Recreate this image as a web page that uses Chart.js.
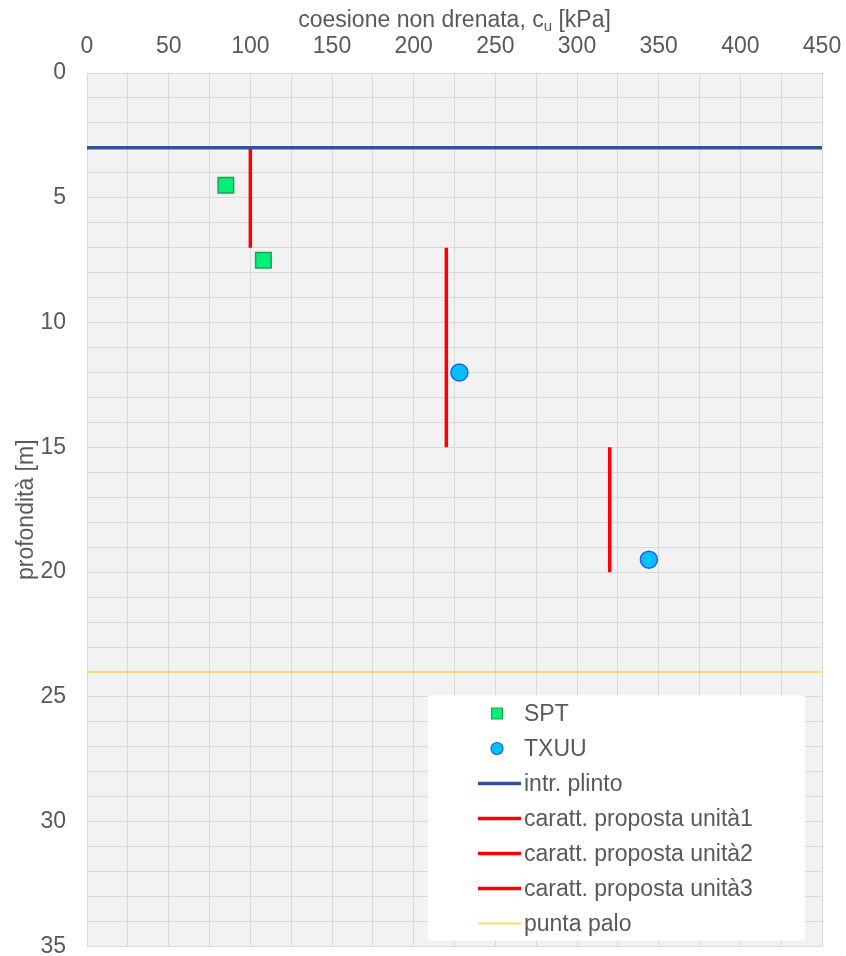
<!DOCTYPE html>
<html>
<head>
<meta charset="utf-8">
<script src="https://cdn.jsdelivr.net/npm/chart.js@4.4.0/dist/chart.umd.min.js"></script>
<style>
html, body { margin: 0; padding: 0; background: #fff; overflow: hidden; }
#wrap { width: 846px; height: 959px; }
</style>
</head>
<body>
<div id="wrap"><canvas id="cuChart"></canvas></div>
<script>
// valori
const sptCu = [85, 108];
const sptZ = [4.5, 7.5];
const txuuCu = [228, 344];
const txuuZ = [12, 19.5];
const plintoZ = 3;
const puntaZ = 24;
const unitCu = [100, 220, 320];
const unitTop = [3, 7, 15];
const unitBottom = [7, 15, 20];
const xTicks = [0, 50, 100, 150, 200, 250, 300, 350, 400, 450];
const yTicks = [0, 5, 10, 15, 20, 25, 30, 35];
const labels = ['SPT', 'TXUU', 'intr. plinto', 'caratt. proposta unità1',
  'caratt. proposta unità2', 'caratt. proposta unità3', 'punta palo'];

const grey = '#595959';
const font = 'Liberation Sans, Arial, sans-serif';

function pts(xs, ys) {
  return xs.map((x, i) => ({ x: x, y: ys[i] }));
}

const datasets = [
  {
    label: labels[0], data: pts(sptCu, sptZ), showLine: false,
    pointStyle: 'rect', pointRadius: 11, backgroundColor: '#00f07a',
    borderColor: '#22a04e', borderWidth: 1.5
  },
  {
    label: labels[1], data: pts(txuuCu, txuuZ), showLine: false,
    pointStyle: 'circle', pointRadius: 8.5, backgroundColor: '#00c0ff',
    borderColor: '#2060e0', borderWidth: 1.5
  },
  {
    label: labels[2], data: pts([0, 450], [plintoZ, plintoZ]), showLine: true,
    pointRadius: 0, borderColor: '#2f5597', borderWidth: 3.5
  }
];
for (let i = 0; i < unitCu.length; i++) {
  datasets.push({
    label: labels[3 + i],
    data: pts([unitCu[i], unitCu[i]], [unitTop[i], unitBottom[i]]),
    showLine: true, pointRadius: 0, borderColor: '#ff0000', borderWidth: 3.5
  });
}
datasets.push({
  label: labels[6], data: pts([0, 450], [puntaZ, puntaZ]), showLine: true,
  pointRadius: 0, borderColor: '#ffd966', borderWidth: 2
});

// sfondo grigio dell'area del grafico
const plotBg = {
  id: 'plotBg',
  beforeDraw(chart) {
    const a = chart.chartArea, ctx = chart.ctx;
    ctx.save();
    ctx.fillStyle = '#f2f2f2';
    ctx.fillRect(a.left, a.top, a.right - a.left, a.bottom - a.top);
    ctx.restore();
  }
};

// titolo asse x con pedice
const xTitle = {
  id: 'xTitle',
  afterDraw(chart) {
    const a = chart.chartArea, ctx = chart.ctx;
    const p1 = 'coesione non drenata, c', sub = 'u', p2 = ' [kPa]';
    ctx.save();
    ctx.fillStyle = grey;
    ctx.textBaseline = 'alphabetic';
    ctx.font = '23px ' + font;
    const w1 = ctx.measureText(p1).width, w3 = ctx.measureText(p2).width;
    ctx.font = '15px ' + font;
    const w2 = ctx.measureText(sub).width;
    let x = (a.left + a.right) / 2 - (w1 + w2 + w3) / 2;
    ctx.textAlign = 'left';
    ctx.font = '23px ' + font;
    ctx.fillText(p1, x, 27);
    ctx.font = '15px ' + font;
    ctx.fillText(sub, x + w1, 31);
    ctx.font = '23px ' + font;
    ctx.fillText(p2, x + w1 + w2, 27);
    ctx.restore();
  }
};

// legenda dentro l'area del grafico
const boxLegend = {
  id: 'boxLegend',
  afterDraw(chart) {
    const a = chart.chartArea, ctx = chart.ctx;
    const w = 377, h = 245;
    const bx = a.right - 17 - w, by = a.bottom - 6 - h;
    ctx.save();
    ctx.fillStyle = '#ffffff';
    ctx.fillRect(bx, by, w, h);
    ctx.font = '23px ' + font;
    ctx.textBaseline = 'middle';
    ctx.textAlign = 'left';
    chart.data.datasets.forEach((ds, i) => {
      const cy = by + 18 + i * 35;
      const mx = bx + 69;
      if (ds.showLine) {
        ctx.strokeStyle = ds.borderColor;
        ctx.lineWidth = ds.borderWidth;
        ctx.beginPath();
        ctx.moveTo(bx + 50, cy);
        ctx.lineTo(bx + 93, cy);
        ctx.stroke();
      } else {
        ctx.fillStyle = ds.backgroundColor;
        ctx.strokeStyle = ds.borderColor;
        ctx.lineWidth = 1.2;
        ctx.beginPath();
        if (ds.pointStyle === 'rect') ctx.rect(mx - 5.5, cy - 5.5, 11, 11);
        else ctx.arc(mx, cy, 6, 0, Math.PI * 2);
        ctx.fill();
        ctx.stroke();
      }
      ctx.fillStyle = grey;
      ctx.fillText(ds.label, bx + 96, cy + 1);
    });
    ctx.restore();
  }
};

new Chart(document.getElementById('cuChart'), {
  type: 'scatter',
  data: { datasets: datasets },
  plugins: [plotBg, xTitle, boxLegend],
  options: {
    responsive: true,
    maintainAspectRatio: false,
    animation: false,
    layout: { padding: { left: 0, top: 0, right: 24, bottom: 9 } },
    plugins: { legend: { display: false }, tooltip: { enabled: false } },
    scales: {
      x: {
        type: 'linear', position: 'top', min: 0, max: 450,
        afterFit(s) { s.height = 73; s.paddingLeft = 0; s.paddingRight = 0; },
        ticks: {
          stepSize: 25, autoSkip: false, maxRotation: 0, padding: 13,
          color: grey, font: { family: font, size: 23 },
          callback: v => xTicks.includes(v) ? String(v) : ''
        },
        grid: { color: '#d9d9d9', drawTicks: false },
        border: { color: '#d9d9d9' }
      },
      y: {
        type: 'linear', reverse: true, min: 0, max: 35,
        afterFit(s) { s.width = 87; s.paddingTop = 0; s.paddingBottom = 0; },
        ticks: {
          stepSize: 1, autoSkip: false, padding: 21,
          color: grey, font: { family: font, size: 23 },
          callback: v => yTicks.includes(v) ? String(v) : ''
        },
        title: {
          display: true, text: 'profondità [m]', color: grey,
          font: { family: font, size: 23 }, padding: { top: 13, bottom: 0 }
        },
        grid: { color: '#d9d9d9', drawTicks: false },
        border: { color: '#d9d9d9' }
      }
    }
  }
});
</script>
</body>
</html>
